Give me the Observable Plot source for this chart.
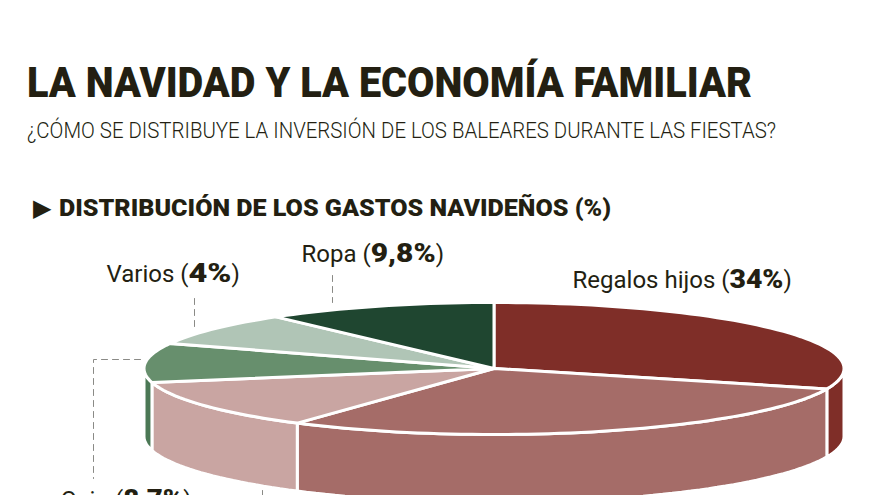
<!DOCTYPE html>
<html lang="es">
<head>
<meta charset="utf-8">
<script src="https://cdn.jsdelivr.net/npm/d3@7"></script>
<script src="https://cdn.jsdelivr.net/npm/@observablehq/plot@0.6"></script>
<style>
  html, body { margin: 0; padding: 0; background: #fff; overflow: hidden; }
  #page { position: relative; width: 880px; height: 495px; overflow: hidden; font-family: Roboto, sans-serif; color: #231f12; }
  #head { position: relative; height: 225px; }
  #head > div { position: absolute; white-space: nowrap; transform-origin: 0 0; }
  #title { left: 27px; top: 58px; font-size: 42px; line-height: 50px; font-weight: 900; }
  #subtitle { left: 27px; top: 118px; font-size: 22px; line-height: 26px; font-weight: 300; }
  #section { left: 59px; top: 194px; font-size: 24px; line-height: 28px; font-weight: 900; }
  #marker { left: 33px; top: 194px; font-family: "DejaVu Sans"; font-size: 24px; line-height: 28px; }
  svg text { font-family: Roboto, sans-serif; }
</style>
</head>
<body>
<div id="page">
  <div id="head">
    <div id="title">LA NAVIDAD Y LA ECONOMÍA FAMILIAR</div>
    <div id="subtitle">¿CÓMO SE DISTRIBUYE LA INVERSIÓN DE LOS BALEARES DURANTE LAS FIESTAS?</div>
    <div id="marker">▶</div>
    <div id="section">DISTRIBUCIÓN DE LOS GASTOS NAVIDEÑOS (%)</div>
  </div>
  <div id="chart"></div>
</div>
<script>
// Slices clockwise from 12 o'clock; shares are the angles as drawn in the picture.
const categories = ["Regalos hijos", "Slice 2", "Slice 3", "Ocio", "Varios", "Ropa"];
const drawnShares = [30, 29.5, 12.1, 9.6, 8.1, 10.7];
const topColors  = ["#7f2e28", "#a56c68", "#c9a5a2", "#678f6d", "#b0c5b6", "#1f4630"];
const sideColors = ["#7f2e28", "#a56c68", "#c9a5a2", "#4b7855", "#b0c5b6", "#1f4630"];

// Printed labels
const labelNames  = ["Regalos hijos", "Ropa", "Varios", "Ocio"];
const labelValues = ["34%", "9,8%", "4%", "8,7%"];

// Layout of annotations
const labelX = [572, 301, 106, 60];
const labelY = [287.5, 261.5, 281.5, 507];
const boldWidth = [54, 65, 43, 60];
const leaders = [
  [[332, 275], [332, 302]],
  [[194, 298], [194, 326]],
  [[140, 359], [93, 359], [93, 478]],
  [[262, 490], [262, 500]]
];

// Pie geometry
const cx = 493.5, cy = 368, rx = 350, ry = 66, depth = 68;
const pt = (share, drop = 0) => {
  const a = share / 100 * 2 * Math.PI;
  return {x: cx + rx * Math.sin(a), y: cy - ry * Math.cos(a) + drop};
};
const arc = (from, to, drop = 0) => {
  const n = Math.max(2, Math.ceil((to - from) * 2));
  return d3.range(n + 1).map(i => pt(from + (to - from) * i / n, drop));
};

const ends = d3.cumsum(drawnShares);
const starts = ends.map((e, i) => e - drawnShares[i]);

const tops = categories.flatMap((name, i) =>
  [{x: cx, y: cy}, ...arc(starts[i], ends[i])].map(p => ({...p, name, color: topColors[i]})));

const sides = categories.flatMap((name, i) => {
  const a = Math.max(starts[i], 25), b = Math.min(ends[i], 75);
  if (b <= a) return [];
  return [...arc(a, b), ...arc(a, b, depth).reverse()].map(p => ({...p, name, color: sideColors[i]}));
});

const labels = labelNames.map((name, i) => ({name, value: labelValues[i], x: labelX[i], y: labelY[i]}));
const leaderRows = leaders.flatMap((l, i) => l.map(([x, y]) => ({x, y, i})));

const plot = Plot.plot({
  width: 880, height: 270,
  margin: 0,
  x: {domain: [0, 880], range: [0, 880], axis: null},
  y: {domain: [225, 495], range: [0, 270], axis: null},
  color: {type: "identity"},
  marks: [
    Plot.line(leaderRows, {x: "x", y: "y", z: "i", stroke: "#8a8a86", strokeWidth: 1, strokeDasharray: "6,5"}),
    Plot.line(sides, {x: "x", y: "y", z: "name", fill: "color", stroke: "#fff", strokeWidth: 3, curve: "linear-closed", strokeLinejoin: "miter"}),
    Plot.line(tops, {x: "x", y: "y", z: "name", fill: "color", stroke: "#fff", strokeWidth: 3, curve: "linear-closed", strokeLinejoin: "round"}),
    Plot.text(labels, {
      x: "x", y: "y", text: d => `${d.name} (${d.value})`,
      textAnchor: "start", lineAnchor: "bottom", fontSize: 24, fill: "#231f12", className: "pie-label"
    })
  ]
});
document.getElementById("chart").appendChild(plot);

// Bold the value inside each label
d3.select(plot).selectAll(".pie-label text").each(function (_, i) {
  const m = this.textContent.match(/^(.*\()(.*)(\))$/);
  if (!m) return;
  const t = d3.select(this).text(m[1]);
  t.append("tspan").attr("font-weight", 900).attr("font-size", 25)
    .attr("textLength", boldWidth[i]).attr("lengthAdjust", "spacingAndGlyphs").text(m[2]);
  t.append("tspan").text(m[3]);
});

// Fit header lines to the measured widths of the printed type
const fit = (id, w) => {
  const el = document.getElementById(id);
  el.style.transform = `scaleX(${w / el.getBoundingClientRect().width})`;
};
fit("title", 725); fit("subtitle", 749); fit("section", 552);
</script>
</body>
</html>
